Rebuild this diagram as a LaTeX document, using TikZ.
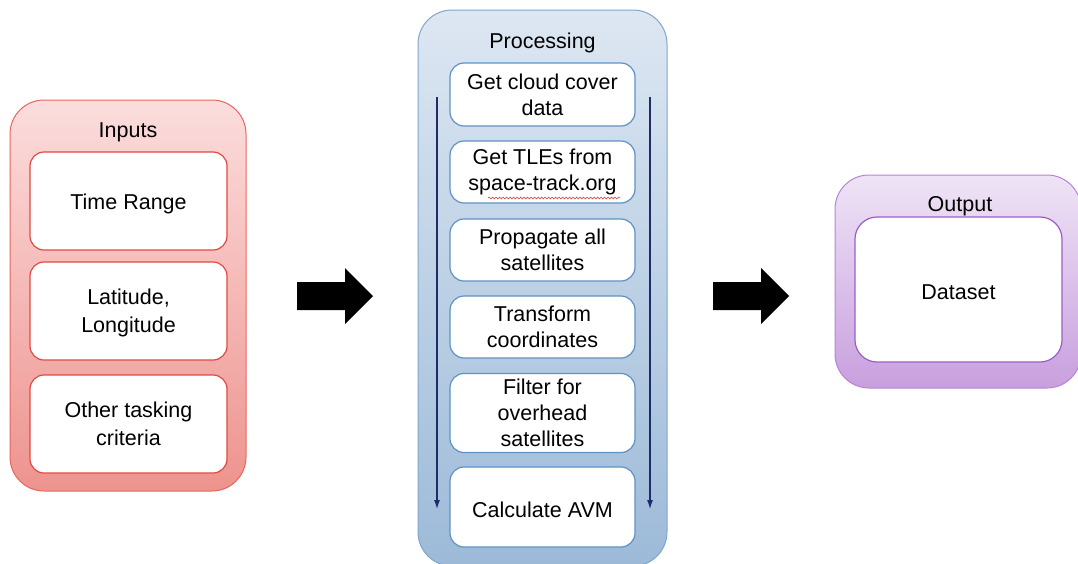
\documentclass[tikz,border=0pt]{standalone}
\usepackage{fontspec}
\setmainfont{Liberation Sans}
\usetikzlibrary{arrows.meta,decorations.pathmorphing}

\definecolor{inTop}{HTML}{FBDDDD}
\definecolor{inBot}{HTML}{EE938E}
\definecolor{inEdge}{HTML}{E8665E}
\definecolor{inBox}{HTML}{E04A3F}
\definecolor{prTop}{HTML}{DDE7F2}
\definecolor{prBot}{HTML}{9CBAD8}
\definecolor{prEdge}{HTML}{7FA6CD}
\definecolor{prBox}{HTML}{5E92C4}
\definecolor{ouTop}{HTML}{EFE4F6}
\definecolor{ouBot}{HTML}{C89FDE}
\definecolor{ouEdge}{HTML}{B884D6}
\definecolor{ouBox}{HTML}{9E5CC8}
\definecolor{flow}{HTML}{1F2C6A}
\definecolor{squig}{HTML}{E0332A}

\tikzset{
  lbl/.style={font=\fontsize{21.5}{26}\selectfont, align=center, inner sep=0pt},
  group/.style={draw, line width=1pt, rounded corners=34pt, inner sep=0pt},
  stage/.style={draw, fill=white, line width=1.2pt, rounded corners=14pt, inner sep=0pt,
    font=\fontsize{21.5}{26}\selectfont, align=center},
  flowline/.style={draw=flow, line width=1.1pt, -{Latex[length=9pt,width=6pt]}}
}
% label set a little lower inside its box
\newcommand{\lowered}[1]{\raisebox{-2.5pt}[\height][\depth]{#1}}
\newcommand{\loweredlines}[1]{\raisebox{-2pt}[\height][\depth]{\def\arraystretch{1.08}\begin{tabular}{@{}c@{}}#1\end{tabular}}}
% filled block arrow pointing right, tail at #1
\newcommand{\blockarrow}[1]{%
  \fill[black] (#1) ++(0,-14) -- ++(48,0) -- ++(0,-14) -- ++(28,28)
    -- ++(-28,28) -- ++(0,-14) -- ++(-48,0) -- cycle;}

\begin{document}
\begin{tikzpicture}[x=1pt,y=-1pt]
\useasboundingbox (0,0) rectangle (1078,563);

% ---- Inputs ----
\node[group, draw=inEdge, top color=inTop, bottom color=inBot,
      minimum width=236pt, minimum height=391pt] (inputs) at (128,295.5) {};
\node[lbl] (inputsT) at (128,132) {Inputs};
\node[stage, draw=inBox, minimum width=197pt, minimum height=98pt] (time) at (128.5,201) {\lowered{Time Range}};
\node[stage, draw=inBox, minimum width=197pt, minimum height=98pt] (latlon) at (128.5,311) {\loweredlines{Latitude,\\Longitude}};
\node[stage, draw=inBox, minimum width=197pt, minimum height=98pt] (other) at (128.5,424) {\loweredlines{Other tasking\\criteria}};

% ---- Processing ----
\node[group, draw=prEdge, top color=prTop, bottom color=prBot,
      minimum width=249pt, minimum height=556pt] (proc) at (542.5,288) {};
\node[lbl] (procT) at (542.5,43) {Processing};
\node[stage, draw=prBox, minimum width=185pt, minimum height=63pt] (cloud) at (542.5,94.5) {Get cloud cover\\data};
\node[stage, draw=prBox, minimum width=185pt, minimum height=62pt] (tle) at (542.5,172) {Get TLEs from\\space-track.org};
\node[stage, draw=prBox, minimum width=185pt, minimum height=62pt] (prop) at (542.5,250) {Propagate all\\satellites};
\node[stage, draw=prBox, minimum width=185pt, minimum height=62pt] (trans) at (542.5,327) {Transform\\coordinates};
\node[stage, draw=prBox, minimum width=185pt, minimum height=79pt] (filt) at (542.5,413) {Filter for\\overhead\\satellites};
\node[stage, draw=prBox, minimum width=185pt, minimum height=80pt] (avm) at (542.5,507) {\lowered{Calculate AVM}};

% spell-check underline beneath the web address
\draw[squig, line width=0.5pt, decorate,
      decoration={snake, amplitude=1pt, segment length=3.5pt}]
  (488,198) -- (620,198);

% flow direction markers on both sides
\coordinate (lTop) at (437,97);
\coordinate (lBot) at (437,509);
\coordinate (rTop) at (650,97);
\coordinate (rBot) at (650,509);
\draw[flowline] (lTop) -- (lBot);
\draw[flowline] (rTop) -- (rBot);

% ---- Output ----
\node[group, draw=ouEdge, top color=ouTop, bottom color=ouBot,
      minimum width=246pt, minimum height=213pt] (out) at (958,281.5) {};
\node[lbl] (outT) at (960,206) {Output};
\node[stage, draw=ouBox, minimum width=207pt, minimum height=145pt, rounded corners=22pt] (data) at (958.5,289.5) {\lowered{Dataset}};

% ---- block arrows between groups ----
\coordinate (a1) at (297,296);
\coordinate (a2) at (713,296);
\blockarrow{a1}
\blockarrow{a2}
\end{tikzpicture}
\end{document}
